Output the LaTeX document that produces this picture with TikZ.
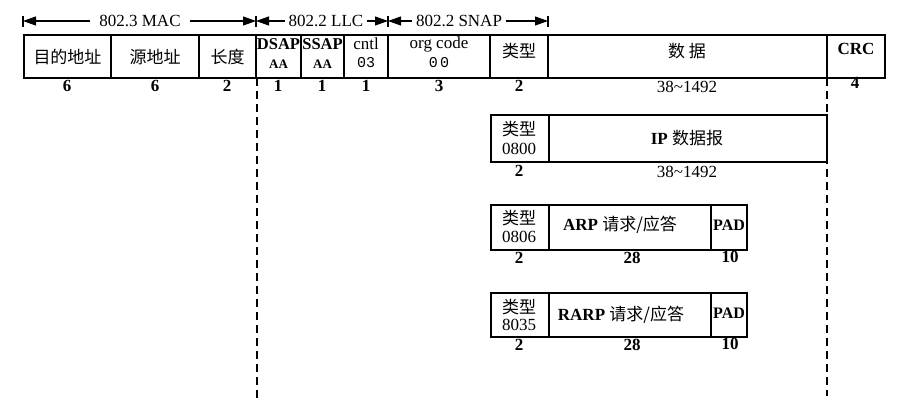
\documentclass[tikz,border=0pt]{standalone}
\usepackage{fontspec}
\setmainfont{Liberation Serif}
\newfontfamily\zhfont{Noto Sans CJK SC}
\newfontfamily\monofont{Liberation Mono}
\usetikzlibrary{arrows.meta,calc}
\newcommand\zh[1]{{\zhfont #1}}
\begin{document}
\begin{tikzpicture}[x=1pt,y=-1pt,
  box/.style={draw,line width=1.2pt,inner sep=0pt,outer sep=0pt,anchor=north west},
  txt/.style={inner sep=0pt,font=\fontsize{17}{20}\selectfont},
  zht/.style={inner sep=0pt,font=\fontsize{17}{20}\zhfont},
  bf/.style={inner sep=0pt,font=\fontsize{17}{20}\selectfont\bfseries},
  num/.style={inner sep=0pt,font=\fontsize{17}{20}\selectfont\bfseries},
  smallbf/.style={inner sep=0pt,font=\fontsize{13}{15}\selectfont\bfseries},
  mono/.style={inner sep=0pt,font=\fontsize{15}{17}\monofont},
  dimline/.style={line width=1.1pt,-{Triangle[length=13pt,width=9pt]}},
  barline/.style={line width=1.6pt},
  vdash/.style={line width=1.2pt,dash pattern=on 8pt off 5pt}]
\useasboundingbox (0,0) rectangle (903,400);

% ---------- top dimension arrows ----------
\coordinate (b0) at (23,21);
\coordinate (b1) at (256,21);
\coordinate (b2) at (388,21);
\coordinate (b3) at (548,21);
\foreach \b in {b0,b1,b2,b3}{
  \draw[barline] ($(\b)+(0,-5.5)$) -- ($(\b)+(0,5.5)$);
}
\node[txt,inner xsep=9pt] (mac) at (140,21) {802.3 MAC};
\node[txt,inner xsep=3pt] (llc) at (326,21) {802.2 LLC};
\node[txt,inner xsep=4pt] (snap) at (459,21) {802.2 SNAP};
\draw[dimline] (mac.west) -- (b0);
\draw[dimline] (mac.east) -- (b1);
\draw[dimline] (llc.west) -- (b1);
\draw[dimline] (llc.east) -- (b2);
\draw[dimline] (snap.west) -- (b2);
\draw[dimline] (snap.east) -- (b3);

% ---------- top frame ----------
\node[box,minimum width=87pt,minimum height=43pt] (c1) at (24,35) {};
\node[box,minimum width=88pt,minimum height=43pt] (c2) at (111,35) {};
\node[box,minimum width=57pt,minimum height=43pt] (c3) at (199,35) {};
\node[box,minimum width=45pt,minimum height=43pt] (c4) at (256,35) {};
\node[box,minimum width=43pt,minimum height=43pt] (c5) at (301,35) {};
\node[box,minimum width=44pt,minimum height=43pt] (c6) at (344,35) {};
\node[box,minimum width=102pt,minimum height=43pt] (c7) at (388,35) {};
\node[box,minimum width=58pt,minimum height=43pt] (c8) at (490,35) {};
\node[box,minimum width=279pt,minimum height=43pt] (c9) at (548,35) {};
\node[box,minimum width=58pt,minimum height=43pt] (c10) at (827,35) {};

\node[zht] (t1) at (67.5,57) {目的地址};
\node[zht] (t2) at (155,57) {源地址};
\node[zht] (t3) at (227.5,57) {长度};
\node[bf,font=\fontsize{16.5}{20}\selectfont\bfseries] (t4a) at (278.5,44) {DSAP};
\node[smallbf] (t4b) at (278.5,64) {AA};
\node[bf,font=\fontsize{16.5}{20}\selectfont\bfseries] (t5a) at (322.5,44) {SSAP};
\node[smallbf] (t5b) at (322.5,64) {AA};
\node[txt] (t6a) at (366,44) {cntl};
\node[mono] (t6b) at (366,63) {03};
\node[txt] (t7a) at (439,44) {org code};
\node[mono] (t7b) at (439,63) {0\,0};
\node[zht] (t8) at (519,51) {类型};
\node[zht] (t9) at (687,51) {数\ 据};
\node[bf] (t10) at (856,49) {CRC};

\node[num] (n1) at (67,86) {6};
\node[num] (n2) at (155,86) {6};
\node[num] (n3) at (227,86) {2};
\node[num] (n4) at (278,86) {1};
\node[num] (n5) at (322,86) {1};
\node[num] (n6) at (366,86) {1};
\node[num] (n7) at (439,86) {3};
\node[num] (n8) at (519,86) {2};
\node[txt] (n9) at (687,87) {38\textasciitilde1492};
\node[num] (n10) at (855,83) {4};

% ---------- dashed guides ----------
\coordinate (d1a) at (257,78);
\coordinate (d1b) at (257,400);
\coordinate (d2a) at (827,78);
\coordinate (d2b) at (827,396);
\draw[vdash] (d1a) -- (d1b);
\draw[vdash] (d2a) -- (d2b);

% ---------- IP ----------
\node[box,minimum width=58pt,minimum height=47pt] (ip1) at (491,115) {};
\node[box,minimum width=278pt,minimum height=47pt] (ip2) at (549,115) {};
\node[zht] (ipa) at (519,129) {类型};
\node[txt] (ipb) at (519,149) {0800};
\node[txt] (ipc) at (687,138) {\textbf{IP} \zh{数据报}};
\node[num] (ipn1) at (519,171) {2};
\node[txt] (ipn2) at (687,172) {38\textasciitilde1492};

% ---------- ARP ----------
\node[box,minimum width=58pt,minimum height=45pt] (ar1) at (491,205) {};
\node[box,minimum width=162pt,minimum height=45pt] (ar2) at (549,205) {};
\node[box,minimum width=36pt,minimum height=45pt] (ar3) at (711,205) {};
\node[zht] (ara) at (519,218) {类型};
\node[txt] (arb) at (519,237) {0806};
\node[txt] (arc) at (620,225) {\textbf{ARP} \zh{请求/应答}};
\node[bf,font=\fontsize{16}{18}\selectfont\bfseries] (ard) at (729,225) {PAD};
\node[num] (arn1) at (519,258) {2};
\node[num] (arn2) at (632,258) {28};
\node[num] (arn3) at (730,257) {10};

% ---------- RARP ----------
\node[box,minimum width=58pt,minimum height=44pt] (rr1) at (491,293) {};
\node[box,minimum width=162pt,minimum height=44pt] (rr2) at (549,293) {};
\node[box,minimum width=36pt,minimum height=44pt] (rr3) at (711,293) {};
\node[zht] (rra) at (519,307) {类型};
\node[txt] (rrb) at (519,325) {8035};
\node[txt] (rrc) at (621,315) {\textbf{RARP} \zh{请求/应答}};
\node[bf,font=\fontsize{16}{18}\selectfont\bfseries] (rrd) at (729,313) {PAD};
\node[num] (rrn1) at (519,345) {2};
\node[num] (rrn2) at (632,345) {28};
\node[num] (rrn3) at (730,344) {10};
\end{tikzpicture}
\end{document}
